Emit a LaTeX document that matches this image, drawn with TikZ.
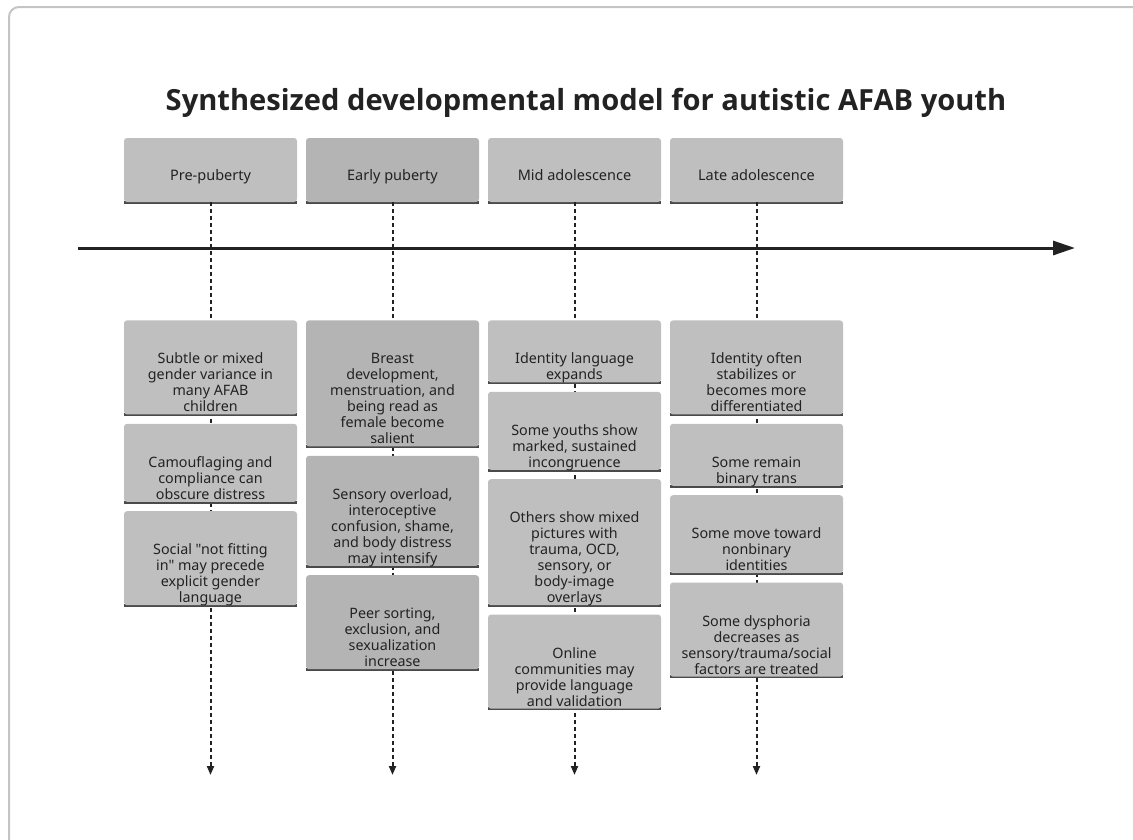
\documentclass[tikz,border=0pt]{standalone}
\usepackage{fontspec}
\setmainfont{Noto Sans}[Ligatures=TeXOff]
\newfontfamily\titlefont{Open Sans}[UprightFont=* Bold]
\usetikzlibrary{arrows.meta,positioning}
\definecolor{boxgray}{HTML}{BFBFBF}
\definecolor{boxdark}{HTML}{B4B4B4}
\definecolor{rulegray}{HTML}{4A4A4A}
\definecolor{framegray}{HTML}{C4C4C4}
\definecolor{inkgray}{HTML}{222222}

\begin{document}
\begin{tikzpicture}[
    x=1pt, y=-1pt,
    node distance=9pt,
    title/.style={anchor=base, text=inkgray, font=\titlefont\fontsize{29.1}{34}\selectfont},
    frame/.style={draw=framegray, line width=2pt, rounded corners=10pt},
    axis/.style={draw=inkgray, line width=3pt, -{Triangle[length=22pt,width=14pt]}},
    timeline/.style={draw=inkgray, line width=2pt, dash pattern=on 4pt off 3pt, -{Triangle[length=9pt,width=7pt]}},
    bottom rule/.style={draw=rulegray, line width=3pt},
    box/.style={fill=boxgray, rounded corners=3pt, minimum width=173pt, inner sep=0pt,
        append after command={\pgfextra{\draw[bottom rule] (\tikzlastnode.south west) -- (\tikzlastnode.south east);}}},
    early/.style={fill=boxdark},
    phase/.style={box, minimum height=64pt, text=inkgray, text height=21pt, text depth=0pt,
        font=\fontsize{14.5}{16}\selectfont},
    nlines/.style={minimum height=16*#1+30},
    caption/.style={anchor=south, align=center, inner sep=0pt, text depth=2.5pt, text=inkgray,
        font=\fontsize{14.3}{16}\selectfont}
    ]
\useasboundingbox (0,0) rectangle (1133,839);
\draw[frame] (9,850) -- (9,7) -- (1145,7);

\node[title] (title) at (586,110) {Synthesized developmental model for autistic AFAB youth};

% stages along the axis
\node[phase] (pre) at (210.5,170) {Pre-puberty};
\node[phase, early] (earlyp) at (392.5,170) {Early puberty};
\node[phase] (mid) at (574.5,170) {Mid adolescence};
\node[phase] (late) at (756.5,170) {Late adolescence};

\coordinate (axis-start) at (78,248);
\coordinate (axis-end) at (1075,248);
\path (axis-start) edge[axis] (axis-end);

\coordinate (pre-end) at (210.5,775);
\coordinate (earlyp-end) at (392.5,775);
\coordinate (mid-end) at (574.5,775);
\coordinate (late-end) at (756.5,775);
\path (pre.south) edge[timeline] (pre-end);
\path (earlyp.south) edge[timeline] (earlyp-end);
\path (mid.south) edge[timeline] (mid-end);
\path (late.south) edge[timeline] (late-end);

% pre-puberty
\node[box, nlines=4, below=118pt of pre, label={[caption]below:{Subtle or mixed\\gender variance in\\many AFAB\\children}}] (pre1) {};
\node[box, nlines=3, below=of pre1, label={[caption]below:{Camouflaging and\\compliance can\\obscure distress}}] (pre2) {};
\node[box, nlines=4, below=of pre2, label={[caption]below:{Social "not fitting\\in" may precede\\explicit gender\\language}}] (pre3) {};

% early puberty
\node[box, early, nlines=6, below=118pt of earlyp, label={[caption]below:{Breast\\development,\\menstruation, and\\being read as\\female become\\salient}}] (earlyp1) {};
\node[box, early, nlines=5, below=of earlyp1, label={[caption]below:{Sensory overload,\\interoceptive\\confusion, shame,\\and body distress\\may intensify}}] (earlyp2) {};
\node[box, early, nlines=4, below=of earlyp2, label={[caption]below:{Peer sorting,\\exclusion, and\\sexualization\\increase}}] (earlyp3) {};

% mid adolescence
\node[box, nlines=2, below=118pt of mid, label={[caption]below:{Identity language\\expands}}] (mid1) {};
\node[box, nlines=3, below=of mid1, label={[caption]below:{Some youths show\\marked, sustained\\incongruence}}] (mid2) {};
\node[box, nlines=6, below=of mid2, label={[caption]below:{Others show mixed\\pictures with\\trauma, OCD,\\sensory, or\\body-image\\overlays}}] (mid3) {};
\node[box, nlines=4, below=of mid3, label={[caption]below:{Online\\communities may\\provide language\\and validation}}] (mid4) {};

% late adolescence
\node[box, nlines=4, below=118pt of late, label={[caption]below:{Identity often\\stabilizes or\\becomes more\\differentiated}}] (late1) {};
\node[box, nlines=2, below=of late1, label={[caption]below:{Some remain\\binary trans}}] (late2) {};
\node[box, nlines=3, below=of late2, label={[caption]below:{Some move toward\\nonbinary\\identities}}] (late3) {};
\node[box, nlines=4, below=of late3, label={[caption]below:{Some dysphoria\\decreases as\\sensory/trauma/social\\factors are treated}}] (late4) {};
\end{tikzpicture}
\end{document}
